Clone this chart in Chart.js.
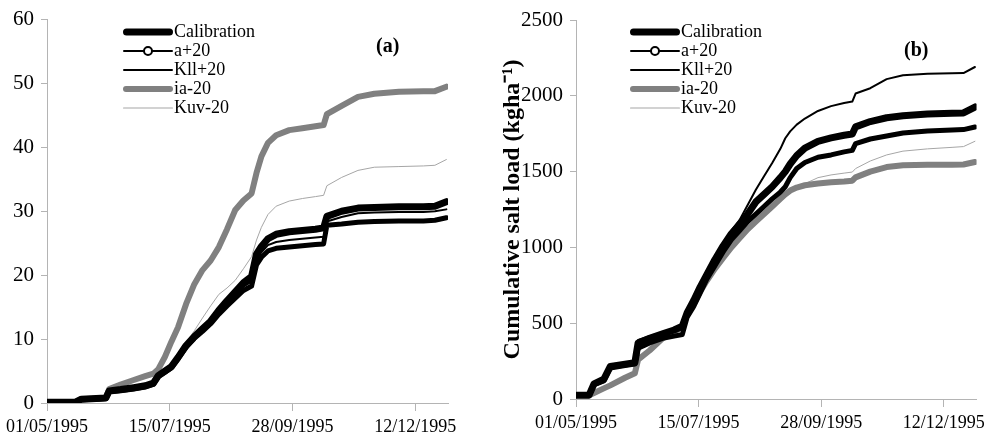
<!DOCTYPE html>
<html>
<head>
<meta charset="utf-8">
<script src="https://cdn.jsdelivr.net/npm/chart.js@4.4.0/dist/chart.umd.min.js"></script>
<style>
  body { margin: 0; background: #fff; width: 991px; height: 442px; overflow: hidden; position: relative;
         font-family: "Liberation Serif", "Times New Roman", serif; }
  .wrap { position: absolute; top: 0; height: 442px; }
  #wrapA { left: 0; width: 470px; }
  #wrapB { left: 490px; width: 501px; }
  .legend { position: absolute; font-size: 18px; line-height: 19px; color: #000; }
  .legend .row { position: relative; height: 19px; white-space: nowrap; }
  .legend .s { position: absolute; left: 0; width: 50px; top: 50%; transform: translateY(-50%); border-radius: 4px; }
  .legend .t { position: absolute; left: 51px; top: 0; }
  .legend .dot { position: absolute; left: 20px; top: 50%; width: 6px; height: 6px; margin-top: -5px;
                 border: 2px solid #000; border-radius: 50%; background: #fff; }
  .panel { position: absolute; font-weight: bold; font-size: 20px; }
</style>
</head>
<body>
<div class="wrap" id="wrapA"><canvas id="chartA"></canvas></div>
<div class="wrap" id="wrapB"><canvas id="chartB"></canvas></div>

<div class="legend" style="left:123px; top:22px;">
  <div class="row"><span class="s" style="height:7px;background:#000"></span><span class="t">Calibration</span></div>
  <div class="row"><span class="s" style="height:2px;background:#000"></span><span class="dot"></span><span class="t">a+20</span></div>
  <div class="row"><span class="s" style="height:2px;background:#000"></span><span class="t">Kll+20</span></div>
  <div class="row"><span class="s" style="height:6px;background:#808080"></span><span class="t">ia-20</span></div>
  <div class="row"><span class="s" style="height:1px;background:#a6a6a6"></span><span class="t">Kuv-20</span></div>
</div>
<div class="legend" style="left:630px; top:22px;">
  <div class="row"><span class="s" style="height:7px;background:#000"></span><span class="t">Calibration</span></div>
  <div class="row"><span class="s" style="height:2px;background:#000"></span><span class="dot"></span><span class="t">a+20</span></div>
  <div class="row"><span class="s" style="height:2px;background:#000"></span><span class="t">Kll+20</span></div>
  <div class="row"><span class="s" style="height:6px;background:#808080"></span><span class="t">ia-20</span></div>
  <div class="row"><span class="s" style="height:1px;background:#a6a6a6"></span><span class="t">Kuv-20</span></div>
</div>
<div class="panel" style="left:376px; top:34px;">(a)</div>
<div class="panel" style="left:904px; top:38px;">(b)</div>

<script>
// days since 01/05/1995
const days = [0, 8, 11, 17, 21, 30, 36, 38, 45, 53, 60, 65, 68, 72, 76, 80, 85, 90, 95, 100,
  105, 110, 115, 120, 125, 128, 131, 135, 140, 148, 156, 164, 169, 171, 180, 190, 200, 215, 230, 237, 244];

const tickDays = [0, 75, 150, 225];
const tickLabels = ['01/05/1995', '15/07/1995', '28/09/1995', '12/12/1995'];

// panel (a)
const calA = [0.1, 0.1, 0.1, 0.1, 0.6, 0.7, 0.8, 1.9, 2.1, 2.4, 2.7, 3.1, 4.3, 5.0, 5.7, 7.1, 9.0, 10.4, 11.6, 12.8,
  14.5, 16.0, 17.4, 18.8, 19.8, 23.3, 24.5, 25.7, 26.4, 26.8, 27.0, 27.2, 27.4, 29.2, 30.0, 30.5, 30.6, 30.7, 30.7, 30.8, 31.5];
const aA = [0.1, 0.1, 0.1, 0.1, 0.5, 0.6, 0.7, 1.7, 1.9, 2.2, 2.5, 2.9, 4.1, 4.8, 5.5, 6.9, 8.7, 10.1, 11.2, 12.4,
  13.9, 15.2, 16.4, 17.6, 18.3, 21.6, 22.8, 23.8, 24.2, 24.4, 24.6, 24.8, 24.9, 27.8, 28.0, 28.3, 28.4, 28.5, 28.5, 28.6, 29.0];
const kllA = [0.1, 0.1, 0.1, 0.1, 0.6, 0.7, 0.8, 1.8, 2.0, 2.3, 2.6, 3.0, 4.2, 4.9, 5.6, 7.0, 8.9, 10.3, 11.4, 12.6,
  14.2, 15.6, 16.9, 18.2, 19.0, 22.4, 23.6, 24.7, 25.2, 25.5, 25.7, 25.9, 26.0, 28.4, 29.1, 29.7, 29.8, 29.9, 29.9, 30.0, 30.3];
const iaA = [0.1, 0.1, 0.1, 0.1, 0.6, 0.7, 0.8, 2.2, 2.9, 3.6, 4.2, 4.6, 5.3, 7.2, 9.6, 11.8, 15.5, 18.6, 20.8, 22.3,
  24.4, 27.2, 30.2, 31.7, 32.8, 36.0, 38.6, 40.7, 41.9, 42.7, 43.0, 43.3, 43.5, 45.2, 46.5, 47.9, 48.4, 48.7, 48.8, 48.8, 49.5];
const kuvA = [0.1, 0.1, 0.1, 0.1, 0.6, 0.7, 0.8, 1.9, 2.2, 2.6, 3.0, 3.3, 4.5, 5.3, 6.1, 7.6, 9.5, 11.3, 13.3, 15.2,
  17.0, 18.0, 19.2, 21.0, 22.9, 25.5, 27.5, 29.5, 30.8, 31.6, 32.0, 32.3, 32.5, 34.0, 35.3, 36.4, 36.9, 37.0, 37.1, 37.2, 38.1];

// panel (b)
const calB = [25, 25, 100, 130, 215, 230, 240, 370, 400, 430, 455, 480, 570, 650, 740, 820, 920, 1010, 1090, 1150,
  1220, 1300, 1350, 1400, 1460, 1500, 1550, 1605, 1655, 1700, 1722, 1740, 1748, 1795, 1830, 1855, 1868, 1880, 1885, 1887, 1926];
const aB = [25, 25, 95, 120, 205, 220, 230, 335, 370, 400, 415, 425, 540, 610, 700, 790, 880, 970, 1050, 1110,
  1170, 1220, 1270, 1320, 1365, 1400, 1460, 1520, 1560, 1595, 1610, 1630, 1640, 1685, 1715, 1735, 1755, 1768, 1775, 1777, 1794];
const kllB = [25, 25, 100, 130, 215, 230, 240, 390, 415, 440, 460, 480, 570, 650, 740, 830, 930, 1030, 1110, 1180,
  1280, 1380, 1470, 1557, 1650, 1720, 1765, 1810, 1850, 1900, 1932, 1952, 1962, 2015, 2050, 2110, 2135, 2145, 2148, 2150, 2190];
const iaB = [25, 25, 40, 70, 90, 140, 170, 260, 320, 400, 445, 475, 555, 630, 710, 780, 860, 930, 1000, 1060,
  1120, 1170, 1220, 1270, 1320, 1350, 1375, 1395, 1410, 1422, 1430, 1435, 1440, 1462, 1500, 1530, 1542, 1545, 1545, 1547, 1563];
const kuvB = [25, 25, 40, 70, 90, 140, 170, 260, 320, 400, 445, 470, 550, 625, 700, 770, 850, 920, 990, 1050,
  1110, 1165, 1215, 1260, 1305, 1330, 1360, 1390, 1420, 1460, 1478, 1490, 1497, 1520, 1570, 1610, 1635, 1650, 1660, 1665, 1700];

const seriesNames = ['Calibration', 'a+20', 'Kll+20', 'ia-20', 'Kuv-20'];
const seriesColors = ['#000', '#000', '#000', '#808080', '#a6a6a6'];
const seriesWidths = [7, 5, 2, 6, 1];

const axisColor = '#b4b4b4';
const serif = 'Liberation Serif';

function pts(arr) {
  return days.map((d, i) => ({ x: d, y: arr[i] }));
}

function makeDatasets(arrs) {
  return arrs.map((arr, i) => ({
    label: seriesNames[i],
    data: pts(arr),
    borderColor: seriesColors[i],
    borderWidth: seriesWidths[i],
    borderCapStyle: 'round',
    borderJoinStyle: 'round',
    pointRadius: 0,
    fill: false,
    tension: 0
  }));
}

function makeChart(id, arrs, yMax, yStep, yWidth, xHeight, pad, yTitle) {
  return new Chart(document.getElementById(id), {
    type: 'line',
    data: { datasets: makeDatasets(arrs) },
    options: {
      responsive: true,
      maintainAspectRatio: false,
      animation: false,
      layout: { padding: pad },
      plugins: { legend: { display: false }, tooltip: { enabled: false } },
      scales: {
        x: {
          type: 'linear',
          min: 0,
          max: 245,
          afterFit: s => { s.height = xHeight; },
          border: { color: axisColor, width: 1 },
          grid: { drawOnChartArea: false, drawTicks: true, tickLength: 8, color: axisColor },
          ticks: {
            stepSize: 75,
            includeBounds: false,
            autoSkip: false,
            maxRotation: 0,
            padding: 5,
            color: '#000',
            font: { family: serif, size: 18 },
            callback: v => tickLabels[tickDays.indexOf(v)] ?? ''
          }
        },
        y: {
          min: 0,
          max: yMax,
          afterFit: s => { s.width = yWidth; },
          border: { color: axisColor, width: 1 },
          grid: { drawOnChartArea: false, drawTicks: true, tickLength: 6, color: axisColor },
          ticks: {
            stepSize: yStep,
            padding: 7,
            color: '#000',
            font: { family: serif, size: 21 },
            callback: v => String(v)
          },
          title: yTitle ? {
            display: true,
            text: yTitle,
            color: '#000',
            font: { family: serif, size: 24, weight: 'bold' },
            padding: { top: 8, bottom: 0 }
          } : { display: false }
        }
      }
    }
  });
}

makeChart('chartA', [calA, aA, kllA, iaA, kuvA], 60, 10, 47, 39,
  { top: 15, right: 22, left: 0, bottom: 0 }, null);
makeChart('chartB', [calB, aB, kllB, iaB, kuvB], 2500, 500, 86, 43,
  { top: 20, right: 14, left: 0, bottom: 0 }, 'Cumulative salt load (kgha\u207B\u00B9)');
</script>
</body>
</html>
